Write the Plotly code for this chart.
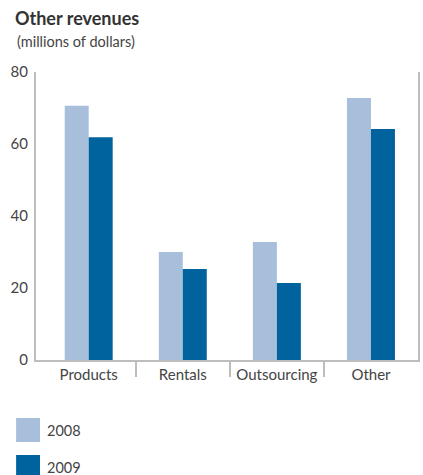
import plotly.graph_objects as go

categories = ["Products", "Rentals", "Outsourcing", "Other"]
values_2008 = [70.6, 30.0, 32.8, 72.8]
values_2009 = [61.9, 25.3, 21.4, 64.2]
series_names = ["2008", "2009"]
y_ticks = [0, 20, 40, 60, 80]

W, H = 423, 475
L, R, T, B = 36, 3, 72, 115
PW, PH = W - L - R, H - T - B

def px_x(x):
    return (x - L) / PW

def px_y(y):
    return (H - B - y) / PH

c_light = "#A7BFDA"
c_dark = "#00639E"
axis_col = "#BDBDBD"
txt_col = "#444444"
font_fam = "Lato, 'Noto Sans', sans-serif"

fig = go.Figure()
fig.add_trace(go.Bar(x=list(range(len(categories))), y=values_2008, name=series_names[0],
                     marker=dict(color=c_light, line=dict(width=0)), showlegend=False))
fig.add_trace(go.Bar(x=list(range(len(categories))), y=values_2009, name=series_names[1],
                     marker=dict(color=c_dark, line=dict(width=0)), showlegend=False))
# invisible trace for the divider axis
fig.add_trace(go.Scatter(x=[0], y=[0], xaxis="x2", mode="markers",
                         marker=dict(opacity=0), hoverinfo="skip", showlegend=False))

xr = [-0.56, 3.5]
fig.update_layout(
    width=W, height=H,
    margin=dict(l=L, r=R, t=T, b=B),
    paper_bgcolor="white", plot_bgcolor="white",
    barmode="group", bargap=0.49, bargroupgap=0,
    font=dict(family=font_fam, color=txt_col, size=14),
    xaxis=dict(range=xr, tickmode="array", tickvals=list(range(len(categories))),
               ticktext=categories, ticks="", showgrid=False, zeroline=False,
               showline=True, linecolor=axis_col, linewidth=2,
               tickfont=dict(size=15, color=txt_col)),
    xaxis2=dict(range=xr, overlaying="x", anchor="y", side="bottom",
                tickmode="array", tickvals=[0.5, 1.5, 2.5], showticklabels=False,
                ticks="outside", ticklen=16, tickwidth=1.5, tickcolor=axis_col,
                showgrid=False, zeroline=False, showline=False),
    yaxis=dict(range=[0, 80], tickmode="array", tickvals=y_ticks, ticks="",
               showgrid=False, zeroline=False, showline=True, mirror=True,
               linecolor=axis_col, linewidth=2, ticklabelstandoff=3,
               tickfont=dict(size=15, color=txt_col)),
    title=dict(text="<b>Other revenues</b>", x=15 / W, xanchor="left", y=1 - 19 / H,
               yanchor="middle", font=dict(size=18, color="#333333", family=font_fam)),
    showlegend=False,
)

fig.add_annotation(text="(millions of dollars)", xref="paper", yref="paper",
                   x=px_x(15), y=px_y(42), xanchor="left", yanchor="middle",
                   showarrow=False, font=dict(size=14.5, color=txt_col))

legend_rows = [(series_names[0], c_light, 418), (series_names[1], c_dark, 455)]
for name, col, top in legend_rows:
    fig.add_shape(type="rect", xref="paper", yref="paper",
                  x0=px_x(16), x1=px_x(40), y0=px_y(top + 24), y1=px_y(top),
                  fillcolor=col, line=dict(width=0))
    fig.add_annotation(text=name, xref="paper", yref="paper",
                       x=px_x(45), y=px_y(top + 12), xanchor="left", yanchor="middle",
                       showarrow=False, font=dict(size=14.5, color=txt_col))

fig.write_html("out.html", config={"displayModeBar": False},
               post_script="document.body.style.margin='0';")
